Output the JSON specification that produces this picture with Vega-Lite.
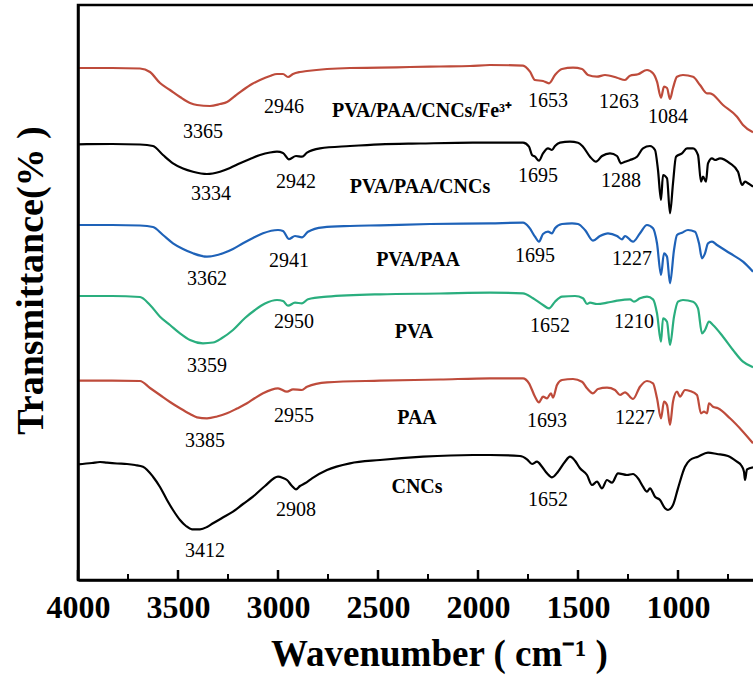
{
  "$schema": "https://vega.github.io/schema/vega-lite/v6.json",
  "width": 678,
  "height": 575,
  "autosize": {"type": "none"},
  "padding": {"left": 78, "top": 5, "right": 0, "bottom": 97},
  "background": "white",
  "config": {"view": {"stroke": "black", "strokeWidth": 2.5}, "font": "Liberation Serif"},
  "datasets": {
    "spectra": [
      {"s":"Fe","x":4000,"y":512},{"s":"Fe","x":3830,"y":512},{"s":"Fe","x":3690,"y":511.5},{"s":"Fe","x":3640,"y":508},{"s":"Fe","x":3590,"y":497},{"s":"Fe","x":3540,"y":490},{"s":"Fe","x":3490,"y":483},{"s":"Fe","x":3440,"y":477},{"s":"Fe","x":3405,"y":475},{"s":"Fe","x":3340,"y":474},{"s":"Fe","x":3290,"y":476},{"s":"Fe","x":3255,"y":478},{"s":"Fe","x":3215,"y":484},{"s":"Fe","x":3175,"y":490},{"s":"Fe","x":3130,"y":496},{"s":"Fe","x":3090,"y":500},{"s":"Fe","x":3040,"y":504},{"s":"Fe","x":3005,"y":506},{"s":"Fe","x":2975,"y":506},{"s":"Fe","x":2950,"y":503},{"s":"Fe","x":2925,"y":506},{"s":"Fe","x":2890,"y":508},{"s":"Fe","x":2855,"y":509},{"s":"Fe","x":2755,"y":511},{"s":"Fe","x":2640,"y":512},{"s":"Fe","x":2490,"y":512.3},{"s":"Fe","x":2340,"y":513},{"s":"Fe","x":2190,"y":513.5},{"s":"Fe","x":2040,"y":514},{"s":"Fe","x":1940,"y":515},{"s":"Fe","x":1775,"y":514.3},{"s":"Fe","x":1740,"y":508.3},{"s":"Fe","x":1715,"y":500},{"s":"Fe","x":1675,"y":499},{"s":"Fe","x":1645,"y":496.7},{"s":"Fe","x":1615,"y":505},{"s":"Fe","x":1580,"y":511},{"s":"Fe","x":1525,"y":512.3},{"s":"Fe","x":1480,"y":511},{"s":"Fe","x":1450,"y":505},{"s":"Fe","x":1405,"y":503.3},{"s":"Fe","x":1365,"y":505},{"s":"Fe","x":1305,"y":502.3},{"s":"Fe","x":1265,"y":500},{"s":"Fe","x":1240,"y":504.3},{"s":"Fe","x":1200,"y":505.7},{"s":"Fe","x":1155,"y":510},{"s":"Fe","x":1125,"y":506.7},{"s":"Fe","x":1105,"y":498.3},{"s":"Fe","x":1085,"y":482.3},{"s":"Fe","x":1070,"y":493.3},{"s":"Fe","x":1055,"y":492},{"s":"Fe","x":1040,"y":481},{"s":"Fe","x":1025,"y":492},{"s":"Fe","x":1005,"y":503.3},{"s":"Fe","x":975,"y":505},{"s":"Fe","x":925,"y":503.3},{"s":"Fe","x":890,"y":495},{"s":"Fe","x":855,"y":486.7},{"s":"Fe","x":840,"y":486.7},{"s":"Fe","x":775,"y":475},{"s":"Fe","x":705,"y":463.3},{"s":"Fe","x":675,"y":455},{"s":"Fe","x":625,"y":447.7},

      {"s":"PVA/PAA/CNCs","x":4000,"y":435.7},{"s":"PVA/PAA/CNCs","x":3830,"y":436},{"s":"PVA/PAA/CNCs","x":3690,"y":435.5},{"s":"PVA/PAA/CNCs","x":3625,"y":434},{"s":"PVA/PAA/CNCs","x":3575,"y":425},{"s":"PVA/PAA/CNCs","x":3525,"y":416.7},{"s":"PVA/PAA/CNCs","x":3475,"y":411.5},{"s":"PVA/PAA/CNCs","x":3425,"y":408.3},{"s":"PVA/PAA/CNCs","x":3355,"y":406},{"s":"PVA/PAA/CNCs","x":3290,"y":408.3},{"s":"PVA/PAA/CNCs","x":3240,"y":412},{"s":"PVA/PAA/CNCs","x":3190,"y":416.7},{"s":"PVA/PAA/CNCs","x":3140,"y":421},{"s":"PVA/PAA/CNCs","x":3090,"y":425},{"s":"PVA/PAA/CNCs","x":3040,"y":427.5},{"s":"PVA/PAA/CNCs","x":3005,"y":428.3},{"s":"PVA/PAA/CNCs","x":2975,"y":427},{"s":"PVA/PAA/CNCs","x":2945,"y":420.7},{"s":"PVA/PAA/CNCs","x":2910,"y":424},{"s":"PVA/PAA/CNCs","x":2880,"y":423.3},{"s":"PVA/PAA/CNCs","x":2855,"y":427.3},{"s":"PVA/PAA/CNCs","x":2790,"y":431.7},{"s":"PVA/PAA/CNCs","x":2640,"y":434},{"s":"PVA/PAA/CNCs","x":2490,"y":435.7},{"s":"PVA/PAA/CNCs","x":2290,"y":436.5},{"s":"PVA/PAA/CNCs","x":2025,"y":437.3},{"s":"PVA/PAA/CNCs","x":1775,"y":437.3},{"s":"PVA/PAA/CNCs","x":1745,"y":433.3},{"s":"PVA/PAA/CNCs","x":1730,"y":425},{"s":"PVA/PAA/CNCs","x":1715,"y":423.3},{"s":"PVA/PAA/CNCs","x":1695,"y":419.3},{"s":"PVA/PAA/CNCs","x":1675,"y":426.7},{"s":"PVA/PAA/CNCs","x":1650,"y":431.7},{"s":"PVA/PAA/CNCs","x":1630,"y":430},{"s":"PVA/PAA/CNCs","x":1615,"y":434},{"s":"PVA/PAA/CNCs","x":1590,"y":437.3},{"s":"PVA/PAA/CNCs","x":1540,"y":438.3},{"s":"PVA/PAA/CNCs","x":1500,"y":437.3},{"s":"PVA/PAA/CNCs","x":1475,"y":433.3},{"s":"PVA/PAA/CNCs","x":1440,"y":423.3},{"s":"PVA/PAA/CNCs","x":1410,"y":418.3},{"s":"PVA/PAA/CNCs","x":1380,"y":424},{"s":"PVA/PAA/CNCs","x":1340,"y":426.7},{"s":"PVA/PAA/CNCs","x":1305,"y":424},{"s":"PVA/PAA/CNCs","x":1285,"y":416.7},{"s":"PVA/PAA/CNCs","x":1265,"y":418.3},{"s":"PVA/PAA/CNCs","x":1240,"y":420},{"s":"PVA/PAA/CNCs","x":1205,"y":423.3},{"s":"PVA/PAA/CNCs","x":1175,"y":431.7},{"s":"PVA/PAA/CNCs","x":1140,"y":434},{"s":"PVA/PAA/CNCs","x":1115,"y":430},{"s":"PVA/PAA/CNCs","x":1100,"y":410},{"s":"PVA/PAA/CNCs","x":1085,"y":380},{"s":"PVA/PAA/CNCs","x":1075,"y":405},{"s":"PVA/PAA/CNCs","x":1055,"y":401.7},{"s":"PVA/PAA/CNCs","x":1040,"y":366.7},{"s":"PVA/PAA/CNCs","x":1025,"y":396.7},{"s":"PVA/PAA/CNCs","x":1010,"y":423.3},{"s":"PVA/PAA/CNCs","x":980,"y":426.7},{"s":"PVA/PAA/CNCs","x":955,"y":431.7},{"s":"PVA/PAA/CNCs","x":925,"y":431.7},{"s":"PVA/PAA/CNCs","x":900,"y":425},{"s":"PVA/PAA/CNCs","x":885,"y":398.3},{"s":"PVA/PAA/CNCs","x":875,"y":403.3},{"s":"PVA/PAA/CNCs","x":860,"y":398.3},{"s":"PVA/PAA/CNCs","x":850,"y":416.7},{"s":"PVA/PAA/CNCs","x":830,"y":421.7},{"s":"PVA/PAA/CNCs","x":815,"y":420},{"s":"PVA/PAA/CNCs","x":790,"y":421.7},{"s":"PVA/PAA/CNCs","x":740,"y":416.7},{"s":"PVA/PAA/CNCs","x":700,"y":408.3},{"s":"PVA/PAA/CNCs","x":680,"y":395},{"s":"PVA/PAA/CNCs","x":665,"y":398.3},{"s":"PVA/PAA/CNCs","x":650,"y":396.7},{"s":"PVA/PAA/CNCs","x":625,"y":393.3},

      {"s":"PVA/PAA","x":4000,"y":355},{"s":"PVA/PAA","x":3830,"y":355},{"s":"PVA/PAA","x":3690,"y":354.5},{"s":"PVA/PAA","x":3625,"y":353},{"s":"PVA/PAA","x":3575,"y":345},{"s":"PVA/PAA","x":3525,"y":336.7},{"s":"PVA/PAA","x":3475,"y":331},{"s":"PVA/PAA","x":3425,"y":326.7},{"s":"PVA/PAA","x":3355,"y":323.3},{"s":"PVA/PAA","x":3275,"y":326.7},{"s":"PVA/PAA","x":3225,"y":331},{"s":"PVA/PAA","x":3175,"y":336.7},{"s":"PVA/PAA","x":3125,"y":342},{"s":"PVA/PAA","x":3075,"y":346.7},{"s":"PVA/PAA","x":3000,"y":350},{"s":"PVA/PAA","x":2975,"y":349},{"s":"PVA/PAA","x":2945,"y":341},{"s":"PVA/PAA","x":2915,"y":344},{"s":"PVA/PAA","x":2880,"y":342.7},{"s":"PVA/PAA","x":2850,"y":348.3},{"s":"PVA/PAA","x":2775,"y":352.7},{"s":"PVA/PAA","x":2640,"y":354},{"s":"PVA/PAA","x":2490,"y":354.7},{"s":"PVA/PAA","x":2240,"y":356},{"s":"PVA/PAA","x":1940,"y":356.7},{"s":"PVA/PAA","x":1775,"y":357.3},{"s":"PVA/PAA","x":1745,"y":352.7},{"s":"PVA/PAA","x":1715,"y":343.3},{"s":"PVA/PAA","x":1695,"y":338.3},{"s":"PVA/PAA","x":1675,"y":346},{"s":"PVA/PAA","x":1650,"y":348.3},{"s":"PVA/PAA","x":1630,"y":346.7},{"s":"PVA/PAA","x":1615,"y":351.7},{"s":"PVA/PAA","x":1580,"y":356},{"s":"PVA/PAA","x":1530,"y":356.7},{"s":"PVA/PAA","x":1500,"y":356},{"s":"PVA/PAA","x":1465,"y":350},{"s":"PVA/PAA","x":1425,"y":339.3},{"s":"PVA/PAA","x":1390,"y":344},{"s":"PVA/PAA","x":1350,"y":346.7},{"s":"PVA/PAA","x":1305,"y":344},{"s":"PVA/PAA","x":1280,"y":340.7},{"s":"PVA/PAA","x":1265,"y":344},{"s":"PVA/PAA","x":1225,"y":338.3},{"s":"PVA/PAA","x":1190,"y":346.7},{"s":"PVA/PAA","x":1155,"y":355},{"s":"PVA/PAA","x":1125,"y":351.7},{"s":"PVA/PAA","x":1105,"y":336.7},{"s":"PVA/PAA","x":1085,"y":305},{"s":"PVA/PAA","x":1070,"y":326.7},{"s":"PVA/PAA","x":1055,"y":323.3},{"s":"PVA/PAA","x":1040,"y":296.7},{"s":"PVA/PAA","x":1020,"y":330},{"s":"PVA/PAA","x":1005,"y":345},{"s":"PVA/PAA","x":980,"y":347.3},{"s":"PVA/PAA","x":950,"y":350},{"s":"PVA/PAA","x":915,"y":348.3},{"s":"PVA/PAA","x":895,"y":336.7},{"s":"PVA/PAA","x":880,"y":321.7},{"s":"PVA/PAA","x":865,"y":326.7},{"s":"PVA/PAA","x":850,"y":336.7},{"s":"PVA/PAA","x":830,"y":338.3},{"s":"PVA/PAA","x":805,"y":335},{"s":"PVA/PAA","x":740,"y":326.7},{"s":"PVA/PAA","x":675,"y":318.3},{"s":"PVA/PAA","x":625,"y":308.3},

      {"s":"PVA","x":4000,"y":284},{"s":"PVA","x":3830,"y":284},{"s":"PVA","x":3690,"y":283},{"s":"PVA","x":3640,"y":275},{"s":"PVA","x":3590,"y":263.3},{"s":"PVA","x":3540,"y":255},{"s":"PVA","x":3490,"y":246.7},{"s":"PVA","x":3440,"y":240},{"s":"PVA","x":3375,"y":236.7},{"s":"PVA","x":3325,"y":237.5},{"s":"PVA","x":3280,"y":242},{"s":"PVA","x":3225,"y":250},{"s":"PVA","x":3165,"y":262},{"s":"PVA","x":3115,"y":270},{"s":"PVA","x":3065,"y":276.5},{"s":"PVA","x":3005,"y":280},{"s":"PVA","x":2975,"y":279},{"s":"PVA","x":2950,"y":274.3},{"s":"PVA","x":2915,"y":277.3},{"s":"PVA","x":2880,"y":276.7},{"s":"PVA","x":2850,"y":280.7},{"s":"PVA","x":2755,"y":283.3},{"s":"PVA","x":2490,"y":285.7},{"s":"PVA","x":2190,"y":286.5},{"s":"PVA","x":1940,"y":287.3},{"s":"PVA","x":1775,"y":286.7},{"s":"PVA","x":1725,"y":281.7},{"s":"PVA","x":1675,"y":275},{"s":"PVA","x":1645,"y":271.7},{"s":"PVA","x":1615,"y":278.3},{"s":"PVA","x":1580,"y":283.3},{"s":"PVA","x":1515,"y":284},{"s":"PVA","x":1475,"y":281.7},{"s":"PVA","x":1455,"y":276},{"s":"PVA","x":1440,"y":277.3},{"s":"PVA","x":1405,"y":276},{"s":"PVA","x":1355,"y":277.3},{"s":"PVA","x":1305,"y":279.3},{"s":"PVA","x":1240,"y":280.7},{"s":"PVA","x":1220,"y":278.3},{"s":"PVA","x":1190,"y":281.7},{"s":"PVA","x":1155,"y":283.3},{"s":"PVA","x":1125,"y":280.7},{"s":"PVA","x":1105,"y":266.7},{"s":"PVA","x":1085,"y":238.3},{"s":"PVA","x":1075,"y":261.7},{"s":"PVA","x":1055,"y":258.3},{"s":"PVA","x":1040,"y":235},{"s":"PVA","x":1020,"y":263.3},{"s":"PVA","x":1000,"y":278.3},{"s":"PVA","x":975,"y":280},{"s":"PVA","x":925,"y":278.3},{"s":"PVA","x":900,"y":271.7},{"s":"PVA","x":880,"y":246.7},{"s":"PVA","x":865,"y":250},{"s":"PVA","x":845,"y":258.3},{"s":"PVA","x":825,"y":255},{"s":"PVA","x":775,"y":243.3},{"s":"PVA","x":725,"y":230},{"s":"PVA","x":675,"y":218.3},{"s":"PVA","x":625,"y":212.7},

      {"s":"PAA","x":4000,"y":199.3},{"s":"PAA","x":3830,"y":199.3},{"s":"PAA","x":3690,"y":199},{"s":"PAA","x":3640,"y":192},{"s":"PAA","x":3590,"y":185},{"s":"PAA","x":3540,"y":178},{"s":"PAA","x":3490,"y":171.7},{"s":"PAA","x":3440,"y":166},{"s":"PAA","x":3405,"y":162.7},{"s":"PAA","x":3355,"y":161.7},{"s":"PAA","x":3305,"y":163.5},{"s":"PAA","x":3255,"y":166.7},{"s":"PAA","x":3205,"y":171.5},{"s":"PAA","x":3155,"y":176.7},{"s":"PAA","x":3115,"y":182},{"s":"PAA","x":3075,"y":186.7},{"s":"PAA","x":3000,"y":191.7},{"s":"PAA","x":2955,"y":188.3},{"s":"PAA","x":2925,"y":190.7},{"s":"PAA","x":2880,"y":190},{"s":"PAA","x":2855,"y":193.3},{"s":"PAA","x":2755,"y":197.7},{"s":"PAA","x":2490,"y":199.3},{"s":"PAA","x":2190,"y":200.5},{"s":"PAA","x":1940,"y":201.7},{"s":"PAA","x":1775,"y":201.7},{"s":"PAA","x":1745,"y":196.7},{"s":"PAA","x":1715,"y":183.3},{"s":"PAA","x":1695,"y":177.7},{"s":"PAA","x":1675,"y":183.3},{"s":"PAA","x":1655,"y":181.7},{"s":"PAA","x":1635,"y":186.7},{"s":"PAA","x":1625,"y":182.3},{"s":"PAA","x":1605,"y":195},{"s":"PAA","x":1580,"y":200},{"s":"PAA","x":1525,"y":201},{"s":"PAA","x":1480,"y":198.3},{"s":"PAA","x":1455,"y":191.7},{"s":"PAA","x":1425,"y":186.7},{"s":"PAA","x":1400,"y":191},{"s":"PAA","x":1355,"y":192.3},{"s":"PAA","x":1315,"y":190},{"s":"PAA","x":1290,"y":185},{"s":"PAA","x":1265,"y":187.7},{"s":"PAA","x":1225,"y":181},{"s":"PAA","x":1190,"y":193.3},{"s":"PAA","x":1155,"y":199},{"s":"PAA","x":1125,"y":196.7},{"s":"PAA","x":1105,"y":181.7},{"s":"PAA","x":1085,"y":161.7},{"s":"PAA","x":1070,"y":178.3},{"s":"PAA","x":1055,"y":175},{"s":"PAA","x":1040,"y":155},{"s":"PAA","x":1025,"y":178.3},{"s":"PAA","x":1005,"y":188.3},{"s":"PAA","x":990,"y":183.3},{"s":"PAA","x":965,"y":190},{"s":"PAA","x":940,"y":189},{"s":"PAA","x":905,"y":185},{"s":"PAA","x":885,"y":166.7},{"s":"PAA","x":870,"y":168.3},{"s":"PAA","x":855,"y":166.7},{"s":"PAA","x":845,"y":176.7},{"s":"PAA","x":825,"y":173.3},{"s":"PAA","x":800,"y":171.7},{"s":"PAA","x":740,"y":161.7},{"s":"PAA","x":675,"y":148.3},{"s":"PAA","x":625,"y":136.7},

      {"s":"CNCs","x":4000,"y":115.7},{"s":"CNCs","x":3930,"y":117},{"s":"CNCs","x":3890,"y":118},{"s":"CNCs","x":3855,"y":117.3},{"s":"CNCs","x":3805,"y":116.5},{"s":"CNCs","x":3755,"y":116},{"s":"CNCs","x":3715,"y":115},{"s":"CNCs","x":3675,"y":113.3},{"s":"CNCs","x":3625,"y":103.3},{"s":"CNCs","x":3590,"y":93},{"s":"CNCs","x":3555,"y":80},{"s":"CNCs","x":3525,"y":70},{"s":"CNCs","x":3490,"y":60},{"s":"CNCs","x":3460,"y":54},{"s":"CNCs","x":3430,"y":50.7},{"s":"CNCs","x":3390,"y":50.7},{"s":"CNCs","x":3355,"y":53},{"s":"CNCs","x":3325,"y":56.7},{"s":"CNCs","x":3280,"y":62},{"s":"CNCs","x":3225,"y":68.3},{"s":"CNCs","x":3175,"y":76},{"s":"CNCs","x":3125,"y":83.3},{"s":"CNCs","x":3065,"y":94},{"s":"CNCs","x":3000,"y":103.3},{"s":"CNCs","x":2975,"y":102},{"s":"CNCs","x":2955,"y":100},{"s":"CNCs","x":2930,"y":94},{"s":"CNCs","x":2910,"y":90.7},{"s":"CNCs","x":2890,"y":94},{"s":"CNCs","x":2865,"y":96.7},{"s":"CNCs","x":2830,"y":101.7},{"s":"CNCs","x":2755,"y":110},{"s":"CNCs","x":2640,"y":116.7},{"s":"CNCs","x":2490,"y":120},{"s":"CNCs","x":2275,"y":123.3},{"s":"CNCs","x":2025,"y":125},{"s":"CNCs","x":1940,"y":125},{"s":"CNCs","x":1790,"y":124},{"s":"CNCs","x":1755,"y":120.7},{"s":"CNCs","x":1730,"y":116},{"s":"CNCs","x":1705,"y":118.3},{"s":"CNCs","x":1680,"y":113.3},{"s":"CNCs","x":1655,"y":106.7},{"s":"CNCs","x":1630,"y":102.7},{"s":"CNCs","x":1600,"y":108.3},{"s":"CNCs","x":1565,"y":118.3},{"s":"CNCs","x":1540,"y":123.3},{"s":"CNCs","x":1515,"y":119.3},{"s":"CNCs","x":1490,"y":111.7},{"s":"CNCs","x":1455,"y":105},{"s":"CNCs","x":1430,"y":95},{"s":"CNCs","x":1405,"y":98.3},{"s":"CNCs","x":1380,"y":91.7},{"s":"CNCs","x":1355,"y":100},{"s":"CNCs","x":1330,"y":97.3},{"s":"CNCs","x":1300,"y":106.7},{"s":"CNCs","x":1255,"y":105},{"s":"CNCs","x":1225,"y":106},{"s":"CNCs","x":1200,"y":101.7},{"s":"CNCs","x":1175,"y":93.3},{"s":"CNCs","x":1155,"y":88.3},{"s":"CNCs","x":1140,"y":91.7},{"s":"CNCs","x":1115,"y":83.3},{"s":"CNCs","x":1090,"y":80},{"s":"CNCs","x":1065,"y":71.7},{"s":"CNCs","x":1050,"y":70},{"s":"CNCs","x":1025,"y":75},{"s":"CNCs","x":1000,"y":91.7},{"s":"CNCs","x":965,"y":113.3},{"s":"CNCs","x":940,"y":120},{"s":"CNCs","x":900,"y":123.3},{"s":"CNCs","x":850,"y":127.3},{"s":"CNCs","x":805,"y":126},{"s":"CNCs","x":750,"y":124},{"s":"CNCs","x":705,"y":118.3},{"s":"CNCs","x":685,"y":115},{"s":"CNCs","x":670,"y":108.3},{"s":"CNCs","x":665,"y":100},{"s":"CNCs","x":655,"y":110.7},{"s":"CNCs","x":625,"y":112.7}
    ],
    "peaks": [
      {"t":"3365","x":3375,"y":448},{"t":"2946","x":2970,"y":473},{"t":"1653","x":1650,"y":479},{"t":"1263","x":1295,"y":478},{"t":"1084","x":1050,"y":463},
      {"t":"3334","x":3335,"y":386},{"t":"2942","x":2910,"y":398},{"t":"1695","x":1700,"y":404},{"t":"1288","x":1285,"y":399},
      {"t":"3362","x":3355,"y":301},{"t":"2941","x":2945,"y":319},{"t":"1695","x":1715,"y":324},{"t":"1227","x":1230,"y":321},
      {"t":"3359","x":3355,"y":214},{"t":"2950","x":2920,"y":258},{"t":"1652","x":1640,"y":254},{"t":"1210","x":1220,"y":258},
      {"t":"3385","x":3365,"y":139},{"t":"2955","x":2920,"y":164},{"t":"1693","x":1655,"y":159},{"t":"1227","x":1215,"y":162},
      {"t":"3412","x":3365,"y":29},{"t":"2908","x":2910,"y":70},{"t":"1652","x":1650,"y":80}
    ],
    "names": [
      {"t":"PVA/PAA/CNCs/Fe³⁺","x":2280,"y":469},
      {"t":"PVA/PAA/CNCs","x":2290,"y":393},
      {"t":"PVA/PAA","x":2300,"y":320},
      {"t":"PVA","x":2320,"y":248},
      {"t":"PAA","x":2305,"y":162},
      {"t":"CNCs","x":2305,"y":93}
    ],
    "major": [{"x":4000},{"x":3500},{"x":3000},{"x":2500},{"x":2000},{"x":1500},{"x":1000}],
    "minor": [{"x":3750},{"x":3250},{"x":2750},{"x":2250},{"x":1750},{"x":1250},{"x":750}]
  },
  "layer": [
    {
      "data": {"name": "spectra"},
      "mark": {"type": "line", "strokeWidth": 2.2, "interpolate": "monotone"},
      "encoding": {
        "x": {
          "field": "x", "type": "quantitative",
          "scale": {"domain": [610, 4000], "reverse": true, "nice": false, "zero": false},
          "axis": {
            "values": [4000, 3500, 3000, 2500, 2000, 1500, 1000],
            "format": "d",
            "ticks": false,
            "domainColor": "black", "domainWidth": 2.5,
            "grid": false, "zindex": 1,
            "labelFont": "Liberation Serif", "labelFontSize": 32, "labelFontWeight": "bold", "labelColor": "black",
            "labelBaseline": "alphabetic", "labelPadding": 37, "labelFlush": false, "labelOverlap": false, "labelBound": false,
            "title": "Wavenumber ( cm⁻¹ )",
            "titleFont": "Liberation Serif", "titleFontSize": 37, "titleFontWeight": "bold", "titleColor": "black",
            "titleX": 361, "titleY": 85, "titleAlign": "center", "titleBaseline": "alphabetic"
          }
        },
        "y": {
          "field": "y", "type": "quantitative",
          "scale": {"domain": [0, 575], "nice": false, "zero": false},
          "axis": {
            "ticks": false, "labels": false, "grid": false, "zindex": 1,
            "domainColor": "black", "domainWidth": 2.5,
            "title": "Transmittance(% )",
            "titleFont": "Liberation Serif", "titleFontSize": 38, "titleFontWeight": "bold", "titleColor": "black",
            "titleAngle": 270, "titleX": -36, "titleY": 275, "titleAlign": "center", "titleBaseline": "alphabetic"
          }
        },
        "color": {
          "field": "s", "type": "nominal",
          "scale": {
            "domain": ["Fe", "PVA/PAA/CNCs", "PVA/PAA", "PVA", "PAA", "CNCs"],
            "range": ["#BE4B3B", "#000000", "#1E62B8", "#2AAE7E", "#BE4B3B", "#000000"]
          },
          "legend": null
        }
      }
    },
    {
      "data": {"name": "major"},
      "mark": {"type": "rule", "color": "black", "strokeWidth": 2.5},
      "encoding": {
        "x": {"field": "x", "type": "quantitative", "axis": null},
        "y": {"datum": 0, "type": "quantitative", "axis": null},
        "y2": {"datum": 10}
      }
    },
    {
      "data": {"name": "minor"},
      "mark": {"type": "rule", "color": "black", "strokeWidth": 2},
      "encoding": {
        "x": {"field": "x", "type": "quantitative", "axis": null},
        "y": {"datum": 0, "type": "quantitative", "axis": null},
        "y2": {"datum": 6}
      }
    },
    {
      "data": {"name": "peaks"},
      "mark": {"type": "text", "font": "Liberation Serif", "fontSize": 20, "color": "black", "align": "center", "baseline": "middle"},
      "encoding": {
        "x": {"field": "x", "type": "quantitative", "axis": null},
        "y": {"field": "y", "type": "quantitative", "axis": null},
        "text": {"field": "t"}
      }
    },
    {
      "data": {"name": "names"},
      "mark": {"type": "text", "font": "Liberation Serif", "fontSize": 20, "fontWeight": "bold", "color": "black", "align": "center", "baseline": "middle"},
      "encoding": {
        "x": {"field": "x", "type": "quantitative", "axis": null},
        "y": {"field": "y", "type": "quantitative", "axis": null},
        "text": {"field": "t"}
      }
    }
  ],
  "resolve": {"axis": {"x": "independent", "y": "independent"}}
}
